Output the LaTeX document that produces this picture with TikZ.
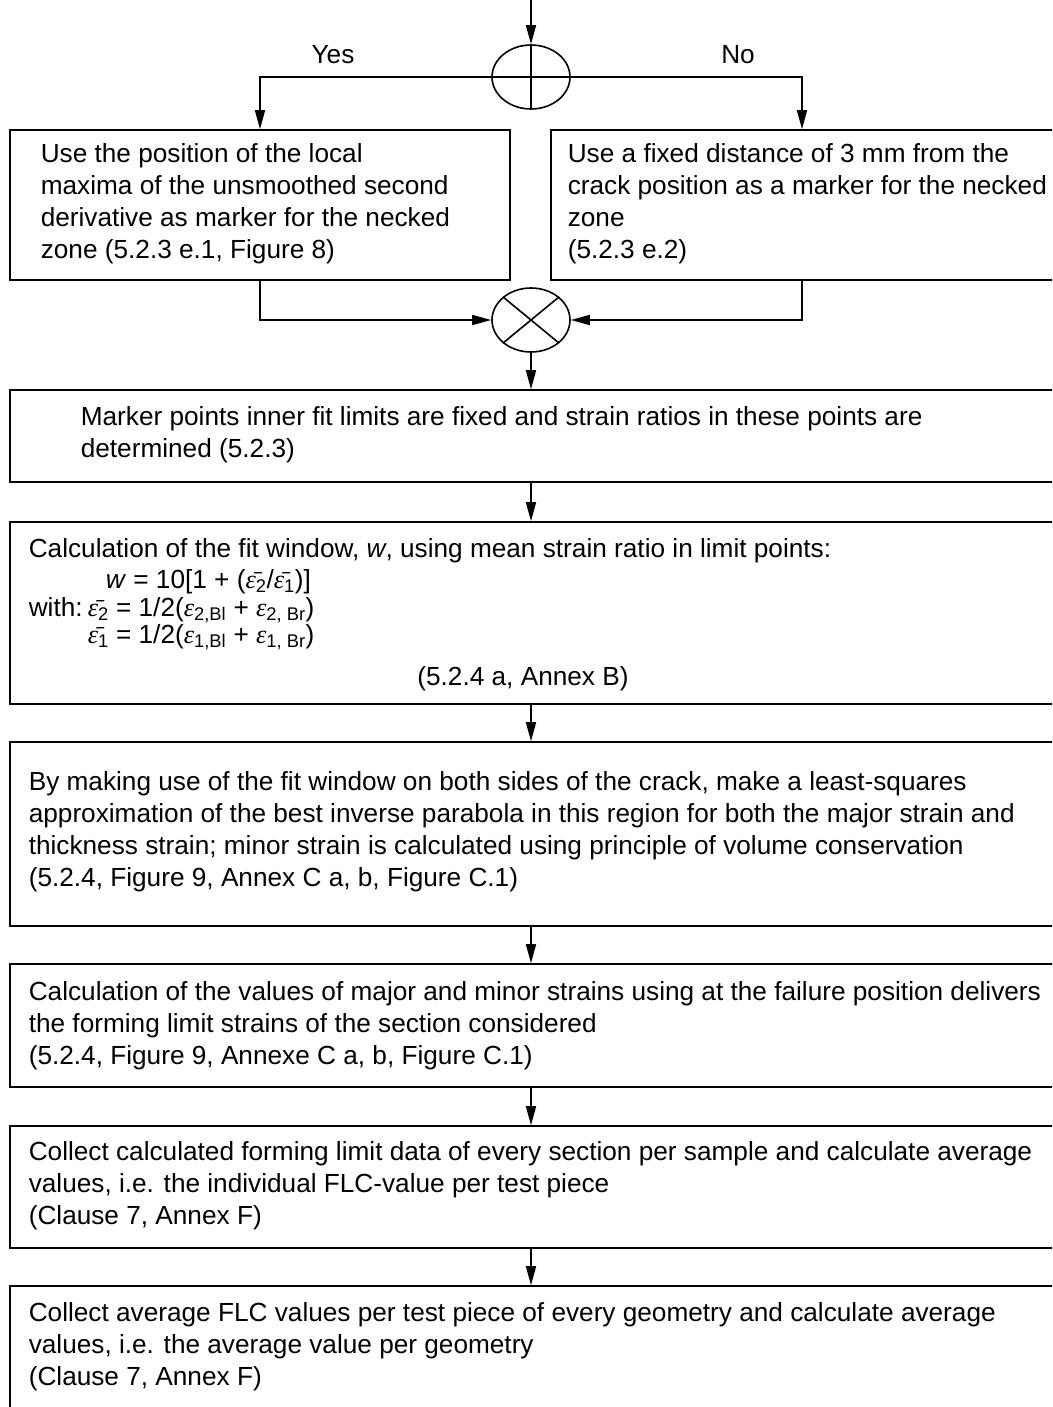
\documentclass[tikz,border=0pt]{standalone}
\usepackage{fontspec}
\setmainfont{Liberation Sans}
\newfontfamily\epsfont{Liberation Serif}
\usetikzlibrary{arrows.meta,shapes.geometric}
\newcommand\mytightlines{\lineskiplimit=-100pt\relax}
\newcommand\eps{{\epsfont\itshape ε}}
\newcommand\epsbar{{\epsfont\itshape ε̄}}
\begin{document}
\begin{tikzpicture}[x=1pt,y=-1pt,
  font=\fontsize{26.2}{31.7}\selectfont,
  line width=1.6pt,
  arr/.style={-{Triangle[length=19pt,width=10pt]}},
  box/.style={draw,rectangle,inner sep=0pt},
  junc/.style={draw,ellipse,inner sep=0pt,minimum width=78pt,minimum height=64pt},
  txt/.style={anchor=base west,align=left,inner sep=0pt},
  lbl/.style={anchor=base,inner sep=0pt}]
\useasboundingbox (0,0) rectangle (1052,1407);
\clip (0,0) rectangle (1052,1407);
% junctions
\coordinate (top) at (531,0);
\node[junc] (e1) at (531,77) {};
\node[junc] (e2) at (531,320) {};
% boxes
\node[box,minimum width=500pt,minimum height=150pt] (L) at (260,205) {};
\node[box,minimum width=511pt,minimum height=150pt] (R) at (806.5,205) {};
\node[box,minimum width=1052pt,minimum height=92pt] (B3) at (536,436) {};
\node[box,minimum width=1052pt,minimum height=182pt] (B4) at (536,613) {};
\node[box,minimum width=1052pt,minimum height=184pt] (B5) at (536,834) {};
\node[box,minimum width=1052pt,minimum height=123pt] (B6) at (536,1025.5) {};
\node[box,minimum width=1052pt,minimum height=122pt] (B7) at (536,1187) {};
\node[box,minimum width=1052pt,minimum height=134pt] (B8) at (536,1353) {};
% texts (base anchor = baseline of last line)
\node[lbl] (yes) at (333,64) {Yes};
\node[lbl] (no) at (738,64) {No};
\node[txt] (tL) at (40,258) {Use the position of the local\\maxima of the unsmoothed second\\derivative as marker for the necked\\zone (5.2.3 e.1, Figure 8)};
\node[txt] (tR) at (567,258) {Use a fixed distance of 3 mm from the\\crack position as a marker for the necked\\zone\\(5.2.3 e.2)};
\node[txt] (t3) at (80,457) {Marker points inner fit limits are fixed and strain ratios in these points are\\determined (5.2.3)};
\node[txt,font={\fontsize{26.2}{31.7}\selectfont\mytightlines}] (t4) at (28,643) {Calculation of the fit window, \textit{w}, using mean strain ratio in limit points:\\[-0.7pt]
\hspace*{77pt}\textit{w} = 10[1 + (\epsbar\textsubscript{2}/\epsbar\textsubscript{1})]\\[-3.7pt]
\makebox[59pt][l]{with:}\epsbar\textsubscript{2} = 1/2(\eps\textsubscript{2,Bl} + \eps\textsubscript{2, Br})\\[-4.7pt]
\hspace*{59pt}\epsbar\textsubscript{1} = 1/2(\eps\textsubscript{1,Bl} + \eps\textsubscript{1, Br})};
\node[lbl] (t4f) at (523,685) {(5.2.4 a, Annex B)};
\node[txt] (t5) at (28,886) {By making use of the fit window on both sides of the crack, make a least-squares\\approximation of the best inverse parabola in this region for both the major strain and\\thickness strain; minor strain is calculated using principle of volume conservation\\(5.2.4, Figure 9, Annex C a, b, Figure C.1)};
\node[txt] (t6) at (28,1064) {Calculation of the values of major and minor strains using at the failure position delivers\\the forming limit strains of the section considered\\(5.2.4, Figure 9, Annexe C a, b, Figure C.1)};
\node[txt] (t7) at (28,1224) {Collect calculated forming limit data of every section per sample and calculate average\\values, i.e. the individual FLC-value per test piece\\(Clause 7, Annex F)};
\node[txt] (t8) at (28,1385) {Collect average FLC values per test piece of every geometry and calculate average\\values, i.e. the average value per geometry\\(Clause 7, Annex F)};
% connectors
\draw[arr] (top) -- (e1.north);
\draw (e1.north) -- (e1.south);
\draw[arr] (e1.center) -| (L.north -| 260,0);
\draw[arr] (e1.center) -| (R.north -| 802,0);
\draw (e2.north west) -- (e2.south east);
\draw (e2.north east) -- (e2.south west);
\draw[arr] (L.south -| 260,0) |- (e2.west);
\draw[arr] (R.south -| 802,0) |- (e2.east);
\draw[arr] (e2.south) -- (B3.north -| e2.south);
\draw[arr] (B3.south -| e2.south) -- (B4.north -| e2.south);
\draw[arr] (B4.south -| e2.south) -- (B5.north -| e2.south);
\draw[arr] (B5.south -| e2.south) -- (B6.north -| e2.south);
\draw[arr] (B6.south -| e2.south) -- (B7.north -| e2.south);
\draw[arr] (B7.south -| e2.south) -- (B8.north -| e2.south);
\end{tikzpicture}
\end{document}
